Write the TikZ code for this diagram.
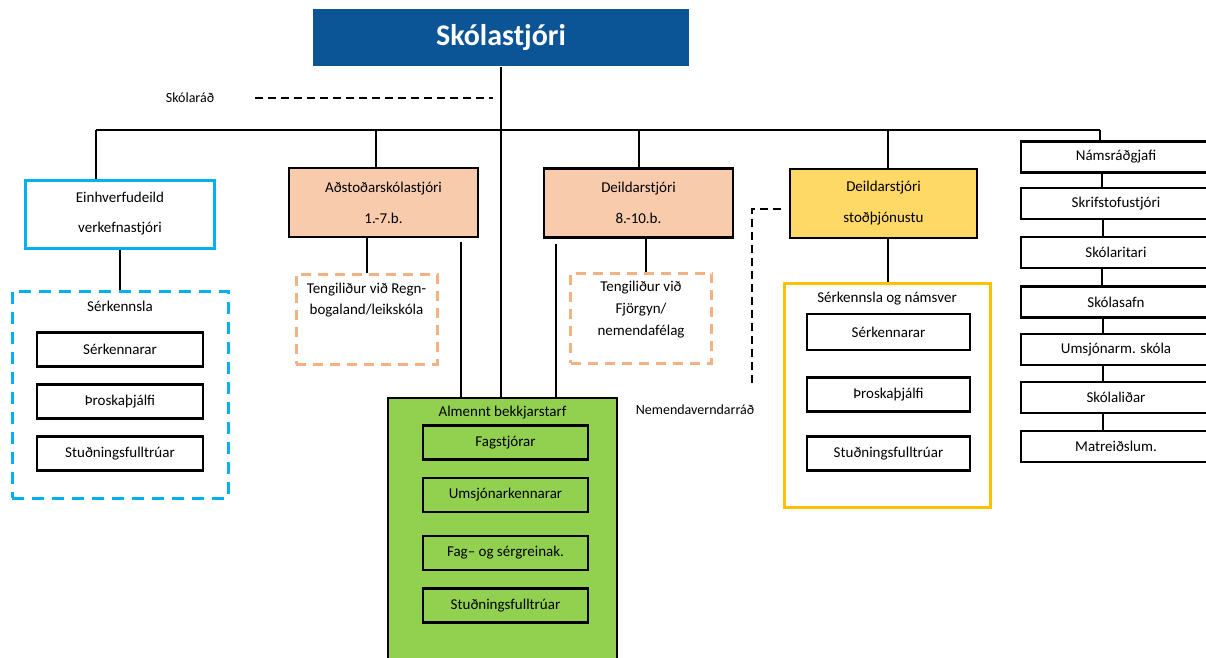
\documentclass[tikz,border=0pt]{standalone}
\usepackage{fontspec}
\setmainfont{Carlito}
\definecolor{titleblue}{RGB}{11,84,150}
\definecolor{skyline}{RGB}{0,176,240}
\definecolor{peachfill}{RGB}{248,203,173}
\definecolor{peachline}{RGB}{244,177,131}
\definecolor{yellowfill}{RGB}{255,217,102}
\definecolor{goldline}{RGB}{255,192,0}
\definecolor{greenfill}{RGB}{146,208,80}

\begin{document}
\begin{tikzpicture}
		[x=1pt,y=-1pt,font=\fontsize{15}{18}\selectfont,line width=2pt,
		box/.style={draw,line width=2.5pt,minimum height=34pt},
		headbox/.style={draw,line width=2.5pt,minimum width=189pt,minimum height=69pt,align=center,font=\fontsize{15}{31}\selectfont},
		sidebox/.style={draw,line width=2.5pt,minimum width=190pt,minimum height=31pt},
		tengbox/.style={draw=peachline,line width=3pt,dash pattern=on 10pt off 7pt,minimum width=141pt,minimum height=90pt},
		dashline/.style={dash pattern=on 8pt off 5pt}]
		\clip (0,0) rectangle (1206,657);

		\node[fill=titleblue,minimum width=376pt,minimum height=57pt,text=white,font=\fontsize{30}{36}\selectfont\bfseries] (stj) at (501,37.5) {Skólastjóri};
		\node[font=\fontsize{14}{17}\selectfont] (rad) at (190,98) {Skólaráð};
		\coordinate (radend) at (493,98);

		\coordinate (d1) at (96,130);
		\coordinate (d2) at (376,130);
		\coordinate (d3) at (639,130);
		\coordinate (d4) at (888,130);
		\coordinate (d5) at (1100,130);

		\node[draw=skyline,line width=3pt,minimum width=189pt,minimum height=68pt,align=center,font=\fontsize{15}{30}\selectfont] (einh) at (120,214) {Einhverfudeild\\verkefnastjóri};
		\node[draw=skyline,line width=3pt,dash pattern=on 12pt off 8pt,minimum width=216pt,minimum height=207pt] (serk) at (120,394.5) {};
		\node (serkt) at (120,306) {Sérkennsla};
		\node[box,minimum width=166pt] (s1) at (120,349.5) {Sérkennarar};
		\node[box,minimum width=166pt] (s2) at (120,401.5) {Þroskaþjálfi};
		\node[box,minimum width=166pt] (s3) at (120,453.5) {Stuðningsfulltrúar};

		\node[headbox,fill=peachfill] (adst) at (383.5,202.5) {Aðstoðarskólastjóri\\1.-7.b.};
		\node[tengbox] (teng1) at (366.5,319) {};
		\node[align=center,font=\fontsize{15}{21}\selectfont] (teng1t) at (366.5,300.5) {Tengiliður við Regn-\\bogaland/leikskóla};

		\node[headbox,fill=peachfill] (deild) at (638.5,203) {Deildarstjóri\\8.-10.b.};
		\node[tengbox] (teng2) at (641,318) {};
		\node[align=center,font=\fontsize{15}{22}\selectfont] (teng2t) at (641,310) {Tengiliður við\\Fjörgyn/\\nemendafélag};

		\node[headbox,fill=yellowfill,minimum width=187pt] (stod) at (883.5,203.5) {Deildarstjóri\\stoðþjónustu};
		\node[draw=goldline,line width=3pt,minimum width=206pt,minimum height=224pt] (nsv) at (887,395) {};
		\node (nsvt) at (887,299) {Sérkennsla og námsver};
		\node[box,minimum width=163pt,minimum height=36pt] (n1) at (888.5,332) {Sérkennarar};
		\node[box,minimum width=163pt] (n2) at (888.5,394.5) {Þroskaþjálfi};
		\node[box,minimum width=163pt] (n3) at (888.5,453.5) {Stuðningsfulltrúar};

		\coordinate (nvr) at (752,387);
		\node[font=\fontsize{14}{17}\selectfont] (nvrt) at (695,410) {Nemendaverndarráð};

		\node[draw,line width=2.5pt,fill=greenfill,minimum width=229pt,minimum height=272pt] (alm) at (502.5,534) {};
		\node (almt) at (502.5,413) {Almennt bekkjarstarf};
		\node[box,minimum width=165pt] (a1) at (505.5,442.5) {Fagstjórar};
		\node[box,minimum width=165pt] (a2) at (505.5,495) {Umsjónarkennarar};
		\node[box,minimum width=165pt] (a3) at (505.5,553) {Fag-- og sérgreinak.};
		\node[box,minimum width=165pt] (a4) at (505.5,605.5) {Stuðningsfulltrúar};

		\node[sidebox] (r1) at (1116,157) {Námsráðgjafi};
		\node[sidebox] (r2) at (1116,203.5) {Skrifstofustjóri};
		\node[sidebox] (r3) at (1116,252.5) {Skólaritari};
		\node[sidebox] (r4) at (1116,302) {Skólasafn};
		\node[sidebox] (r5) at (1116,349.5) {Umsjónarm. skóla};
		\node[sidebox] (r6) at (1116,397.5) {Skólaliðar};
		\node[sidebox] (r7) at (1116,446.5) {Matreiðslum.};

		\draw[dashline] ([xshift=37pt]rad.east) -- (radend);
		\draw (stj.south) -- (stj.south |- alm.north);
		\draw (d1) -- (d5);
		\draw (d1) -- (d1 |- einh.north);
		\draw (d2) -- (d2 |- adst.north);
		\draw (d3) -- (d3 |- deild.north);
		\draw (d4) -- (d4 |- stod.north);
		\draw (d5) -- (d5 |- r1.north);

		\draw (einh.south) -- (serk.north);
		\draw (teng1.north) -- (teng1.north |- adst.south);
		\draw ([xshift=77.5pt,yshift=-4pt]adst.south) -- ([xshift=-41.5pt]alm.north);
		\draw ([xshift=7.5pt]deild.south) -- ([xshift=5pt]teng2.north);
		\draw ([xshift=-82.5pt,yshift=-5pt]deild.south) -- ([xshift=53.5pt]alm.north);
		\draw ([xshift=4.5pt]stod.south) -- ([xshift=1pt]nsv.north);
		\draw[dashline] ([xshift=-8pt,yshift=-5.5pt]stod.west) -| (nvr);

		\draw ([xshift=-14pt]r1.south) -- ([xshift=-14pt]r2.north);
		\draw ([xshift=-13pt]r2.south) -- ([xshift=-13pt]r3.north);
		\draw ([xshift=-14pt]r3.south) -- ([xshift=-14pt]r4.north);
		\draw ([xshift=-13pt]r4.south) -- ([xshift=-13pt]r5.north);
		\draw ([xshift=-13pt]r5.south) -- ([xshift=-13pt]r6.north);
		\draw ([xshift=-13pt]r6.south) -- ([xshift=-13pt]r7.north);

	\end{tikzpicture}
\end{document}
